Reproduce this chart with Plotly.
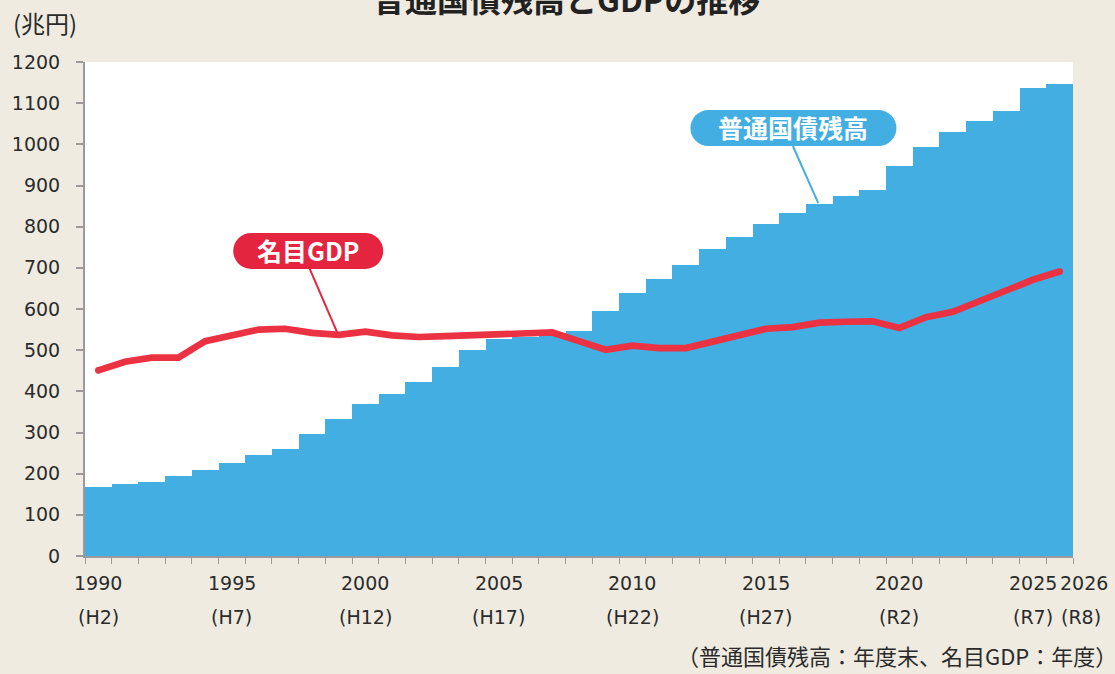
import plotly.graph_objects as go

# ---- data ----
years = list(range(1990, 2027))
debt = [167, 174, 180, 194, 208, 226, 246, 259, 297, 334, 369, 394, 423, 459, 500,
        526, 532, 541, 547, 595, 638, 672, 706, 746, 776, 807, 832, 855, 875, 888,
        948, 993, 1029, 1056, 1082, 1138, 1147]
gdp = [451, 472, 482, 482, 522, 535, 550, 552, 542, 537, 545, 536, 532, 534, 536,
       539, 542, 543, 522, 501, 511, 505, 505, 522, 536, 552, 556, 567, 569, 570,
       554, 580, 593, 619, 645, 671, 691]
label_years = [1990, 1995, 2000, 2005, 2010, 2015, 2020, 2025, 2026]
era_labels = ["(H2)", "(H7)", "(H12)", "(H17)", "(H22)", "(H27)", "(R2)", "(R7)", "(R8)"]
y_ticks = list(range(0, 1201, 100))

# ---- styles ----
BG = "#EFEBE1"
BLUE = "#43AEE1"
RED = "#EB3242"
PILL_RED = "#E5253F"
AXIS = "#9A9A9A"
TXT = "#2B2B2B"
NUM_FONT = "DejaVu Sans, Noto Sans CJK JP, sans-serif"
JP_FONT = "Noto Sans CJK JP, sans-serif"

fig = go.Figure()
fig.add_trace(go.Bar(x=years, y=debt, width=1, marker=dict(color=BLUE, line=dict(width=0)),
                     hoverinfo="x+y", showlegend=False))
fig.add_trace(go.Scatter(x=years, y=gdp, mode="lines", line=dict(color=RED, width=6.7),
                         showlegend=False))
fig.add_trace(go.Scatter(x=[years[0], years[-1]], y=[gdp[0], gdp[-1]], mode="markers",
                         marker=dict(color=RED, size=6.7), showlegend=False))

boundaries = [y - 0.5 for y in years] + [years[-1] + 0.5]

fig.update_layout(
    width=1115, height=674,
    margin=dict(l=82, r=42, t=62, b=118),
    paper_bgcolor=BG, plot_bgcolor="white",
    bargap=0,
    xaxis=dict(range=[years[0] - 0.5, years[-1] + 0.5], tickvals=boundaries,
               ticktext=[""] * len(boundaries), ticks="outside", ticklen=6,
               tickcolor=AXIS, tickwidth=1, showgrid=False, zeroline=False,
               showline=True, linecolor=AXIS, linewidth=2, showticklabels=False,
               fixedrange=True),
    yaxis=dict(range=[0, 1200], tickvals=y_ticks, ticks="outside", ticklen=7,
               tickcolor=AXIS, tickwidth=1.5, showgrid=False, zeroline=False,
               showline=True, linecolor=AXIS, linewidth=2,
               tickfont=dict(family=NUM_FONT, size=19, color=TXT),
               ticklabelstandoff=12, fixedrange=True),
)

ann = []
# x-axis labels (two rows)
for yr, era in zip(label_years, era_labels):
    xs = 24 if yr == years[-1] else 0
    ann.append(dict(x=yr, y=0, xref="x", yref="paper", text=str(yr), showarrow=False,
                    xshift=xs, yshift=-27, yanchor="middle",
                    font=dict(family=NUM_FONT, size=19, color=TXT)))
    ann.append(dict(x=yr, y=0, xref="x", yref="paper", text=era, showarrow=False,
                    xshift=xs - (3 if yr == years[-1] else 0), yshift=-61, yanchor="middle",
                    font=dict(family=NUM_FONT, size=19, color=TXT)))
# title (cut at top, as in the reference)
ann.append(dict(x=0.5, y=1, xref="paper", yref="paper", text="<b>普通国債残高とGDPの推移</b>",
                showarrow=False, xshift=-13, yshift=64, yanchor="middle",
                font=dict(family=JP_FONT, size=32, color="#222222")))
# unit
ann.append(dict(x=0, y=1, xref="paper", yref="paper", text="(兆円)", showarrow=False,
                xshift=-74, yshift=40, xanchor="left", yanchor="middle",
                font=dict(family=JP_FONT, size=24, color=TXT)))
# footnote
ann.append(dict(x=1, y=0, xref="paper", yref="paper",
                text="（普通国債残高：年度末、名目GDP：年度）", showarrow=False,
                xshift=46, yshift=-99, xanchor="right", yanchor="middle",
                font=dict(family=JP_FONT, size=22, color=TXT)))

shapes = []


def pill(cx, cy, w, h, color):
    r = h / 2
    common = dict(xref="x", yref="y", xsizemode="pixel", ysizemode="pixel",
                  xanchor=cx, yanchor=cy, fillcolor=color, line=dict(width=0), layer="above")
    return [
        dict(type="rect", x0=-(w / 2 - r), x1=(w / 2 - r), y0=-r, y1=r, **common),
        dict(type="circle", x0=-w / 2, x1=-w / 2 + h, y0=-r, y1=r, **common),
        dict(type="circle", x0=w / 2 - h, x1=w / 2, y0=-r, y1=r, **common),
    ]


# GDP label
gdp_lbl = (1997.86, 741)
shapes.append(dict(type="line", xref="x", yref="y", x0=1997.9, y0=700, x1=1998.94, y1=544,
                   line=dict(color=PILL_RED, width=2), layer="above"))
shapes += pill(gdp_lbl[0], gdp_lbl[1], 150, 36, PILL_RED)
ann.append(dict(x=gdp_lbl[0], y=gdp_lbl[1], xref="x", yref="y", text="<b>名目GDP</b>",
                showarrow=False, yanchor="middle", yshift=1,
                font=dict(family=JP_FONT, size=25, color="white")))

# debt label
debt_lbl = (2016.03, 1039.6)
shapes.append(dict(type="line", xref="x", yref="y", x0=2016.01, y0=996, x1=2016.96, y1=857,
                   line=dict(color=BLUE, width=2), layer="above"))
shapes += pill(debt_lbl[0], debt_lbl[1], 206, 36, BLUE)
ann.append(dict(x=debt_lbl[0], y=debt_lbl[1], xref="x", yref="y", text="<b>普通国債残高</b>",
                showarrow=False, yanchor="middle", yshift=1,
                font=dict(family=JP_FONT, size=25, color="white")))

fig.update_layout(annotations=ann, shapes=shapes)
fig.write_html("out.html", config={"displayModeBar": False},
               post_script="document.body.style.margin='0';document.body.style.padding='0';"
                           "document.body.style.overflow='hidden';")
